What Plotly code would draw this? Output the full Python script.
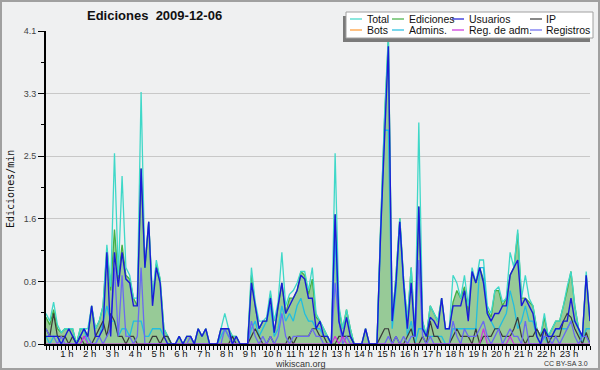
import plotly.graph_objects as go

# ---- data: edits per minute, 10-minute bins, 6 values per hour ----
total = [
    .4, .3, .55, .25, .15, .2,      # 0h
    .2, .2, 0, .2, .2, .2,          # 1h
    .5, .2, .3, .5, 1.3, .75,       # 2h
    2.5, .9, 2.2, 1.0, .9, .6,      # 3h
    .6, 3.3, 1.0, 1.6, .6, 1.1,     # 4h
    .85, .2, .1, 0, 0, .1,          # 5h
    0, .1, .1, 0, .2, .1,           # 6h
    .2, 0, 0, 0, .2, .4,            # 7h
    .2, .1, .1, 0, 0, 0,            # 8h
    1.0, .55, .3, .3, .35, .7,      # 9h
    .3, .55, 1.2, .5, .65, .7,      # 10h
    .8, .95, .95, .7, 1.0, .4,      # 11h
    .3, .2, .1, 0, 2.5, .5,         # 12h
    .2, .45, .2, 0, 0, 0,           # 13h
    .2, 0, 0, 0, 1.6, 3.0,          # 14h
    4.05, .3, .9, 1.65, .85, .3,    # 15h
    1.0, .1, 2.9, .3, .1, .5,       # 16h
    .4, .3, .6, .2, .2, .9,         # 17h
    .8, .6, .9, .5, 1.0, .8,        # 18h
    1.1, 1.1, .5, .4, .7, .75,      # 19h
    .55, .6, 1.2, 1.0, 1.5, .6,     # 20h
    .9, .6, .5, .2, .1, .4,         # 21h
    .1, .2, .3, .3, .5, .75,        # 22h
    .95, .5, .2, .1, .95, .3,       # 23h
]
ediciones = [
    .35, .25, .45, .2, .15, .2,
    .2, .2, 0, .2, .2, .1,
    .5, .2, .3, .5, 1.25, .7,
    1.5, .85, 1.3, .9, .85, .6,
    .5, 2.3, 1.0, 1.6, .6, 1.05,
    .85, .2, .1, 0, 0, .1,
    0, .1, .1, 0, .2, .1,
    .2, 0, 0, 0, .2, .2,
    .2, .1, .1, 0, 0, 0,
    .9, .5, .2, .3, .3, .65,
    .15, .5, .8, .4, .6, .6,
    .7, .95, .9, .65, .85, .35,
    .3, .2, .1, 0, 1.7, .45,
    .2, .45, .2, 0, 0, 0,
    .2, 0, 0, 0, 1.6, 2.95,
    4.0, .3, .9, 1.65, .85, .3,
    1.0, .1, 1.8, .3, .1, .5,
    .4, .3, .6, .2, .2, .55,
    .7, .6, .75, .4, .95, .8,
    1.0, .85, .45, .35, .7, .7,
    .5, .6, .9, 1.0, 1.45, .6,
    .6, .55, .5, .2, .1, .35,
    .1, .2, .3, .3, .5, .7,
    .95, .5, .2, .1, .9, .3,
]
usuarios = [
    .1, .1, .1, .1, 0, .1,
    .2, .1, 0, .1, .2, .1,
    .5, .1, .1, .2, 1.2, .1,
    1.2, .75, 1.2, .85, .8, .5,
    .5, 2.3, 1.0, 1.6, .5, 1.0,
    .8, .1, 0, 0, 0, .1,
    0, .1, .1, 0, .2, .1,
    .2, 0, 0, 0, .2, .2,
    .2, 0, .1, 0, 0, 0,
    .8, .5, .2, .3, .3, .6,
    .15, .5, .8, .4, .5, .6,
    .7, .9, .85, .6, .6, .2,
    .3, .1, .1, 0, 1.7, .3,
    .1, .35, .1, 0, 0, 0,
    .2, 0, 0, 0, 1.5, 2.8,
    3.9, .3, .8, 1.6, .8, .2,
    .8, .1, 1.8, .2, .1, .35,
    .3, .2, .6, .2, .2, .5,
    .5, .5, .7, .3, .95, .8,
    1.0, .8, .4, .3, .4, .4,
    .5, .5, .9, 1.0, 1.1, .5,
    .6, .5, .4, .1, 0, .2,
    .1, .1, .2, .2, .3, .3,
    .6, .3, .2, .1, .9, .3,
]
ip = [
    .2, .1, .4, .1, .1, .1,
    0, .1, 0, .1, 0, 0,
    0, .1, .2, .3, .1, .4,
    .3, .1, .1, 0, .1, .1,
    0, 0, 0, 0, .1, .1,
    0, .1, .1, 0, 0, 0,
    0, 0, 0, 0, 0, 0,
    0, 0, 0, 0, 0, 0,
    0, .1, 0, 0, 0, 0,
    .1, .2, .1, 0, 0, .1,
    0, 0, 0, 0, .1, 0,
    .1, .1, .1, .1, .2, .2,
    .1, .1, 0, 0, 0, .1,
    .1, .1, .1, 0, 0, 0,
    0, 0, 0, 0, .1, .2,
    .2, 0, .1, 0, 0, .1,
    .2, 0, 0, .1, 0, .3,
    .1, .1, 0, 0, 0, .1,
    .2, .1, .1, .1, 0, .2,
    0, .1, .1, .1, .2, .2,
    .1, .1, .1, .2, .35, .1,
    0, .1, .1, .2, .1, .2,
    0, .1, .1, .1, .3, .4,
    .35, .2, .1, 0, .15, 0,
]
bots = [0] * 144
admins = [
    .1, 0, .1, .1, 0, 0,
    0, 0, 0, .1, .2, 0,
    0, 0, .1, .3, .5, .3,
    .3, .1, .2, .2, .1, .3,
    .3, .3, .1, .1, .2, .2,
    .2, .1, .1, 0, 0, 0,
    0, 0, 0, 0, 0, 0,
    0, 0, 0, 0, .1, .2,
    .1, .1, 0, 0, 0, 0,
    .2, .3, .1, .2, .3, .5,
    .1, .2, .5, .3, .4, .3,
    .5, .6, .4, .3, .3, .2,
    .2, .1, .1, 0, 1.4, .3,
    .1, .1, .1, 0, 0, 0,
    0, 0, 0, 0, 1.5, 2.8,
    2.8, .2, .7, 1.6, .8, .1,
    .3, 0, .2, .2, .1, .1,
    .1, .1, .1, 0, 0, .2,
    .2, .2, .2, .2, .2, .2,
    1.0, 1.0, .4, .3, .2, .2,
    .3, .4, .7, .5, .2, .3,
    .5, .3, .3, .1, 0, .1,
    0, .1, .2, .2, .2, .2,
    .3, .3, .2, 0, .2, .2,
]
reg_adm = [
    0, 0, 0, 0, 0, 0,
    0, 0, 0, 0, .1, 0,
    0, 0, 0, 0, 0, 0,
    0, 0, 0, 0, 0, 0,
    0, 0, 0, 0, 0, 0,
    0, 0, 0, 0, 0, 0,
    0, 0, 0, 0, 0, 0,
    0, 0, 0, 0, 0, 0,
    0, 0, 0, 0, 0, 0,
    0, 0, 0, 0, 0, 0,
    0, 0, 0, 0, 0, 0,
    0, 0, 0, 0, 0, 0,
    0, 0, 0, 0, .1, 0,
    .1, 0, 0, 0, 0, 0,
    0, 0, 0, 0, 0, 0,
    0, 0, 0, 0, 0, 0,
    0, 0, 0, 0, 0, 0,
    0, 0, 0, 0, 0, 0,
    0, 0, 0, 0, 0, 0,
    0, .2, 0, 0, 0, 0,
    0, 0, .1, 0, 0, 0,
    0, 0, 0, 0, 0, 0,
    0, 0, 0, 0, 0, 0,
    0, 0, 0, 0, 0, 0,
]
registros = [
    .2, .1, .1, 0, .1, 0,
    0, 0, 0, 0, .1, .1,
    0, 0, .1, 0, .1, .2,
    1.0, .1, .9, .1, .1, 0,
    .1, 1.0, 0, 0, 0, 0,
    0, 0, 0, 0, 0, 0,
    0, 0, .1, 0, 0, 0,
    0, 0, 0, 0, 0, .2,
    .1, 0, 0, 0, 0, 0,
    .3, .1, 0, .1, 0, .1,
    0, .1, .4, .1, 0, .1,
    .1, .1, .1, .1, .2, .1,
    .1, 0, 0, 0, .8, .3,
    0, .1, 0, 0, 0, 0,
    0, 0, 0, 0, 0, 0,
    .1, 0, .1, 0, .1, 0,
    .1, .1, 1.1, .1, 0, .1,
    0, 0, 0, 0, 0, .3,
    .1, 0, .2, .1, .1, .1,
    .2, .3, .1, 0, .1, .2,
    0, .1, .2, .1, .1, 0,
    .3, 0, 0, 0, 0, .1,
    .1, 0, .1, 0, .1, .2,
    .3, .1, 0, .1, .1, 0,
]
hours = list(range(1, 24))
hour_labels = [f"{h} h" for h in hours]
y_max = 4.1
y_tick_labels = ["0.0", "0.8", "1.6", "2.5", "3.3", "4.1"]

legend_names = [["Total", "Ediciones", "Usuarios", "IP"],
                ["Bots", "Admins.", "Reg. de adm.", "Registros"]]

# ---- styles ----
C_TOTAL = "#3fd8c8"
C_EDIC = "#44b044"
C_FILL = "#97ca97"
C_USU = "#1a1ad8"
C_IP = "#3a3a3a"
C_BOTS = "#ff9933"
C_ADM = "#22bde0"
C_REGADM = "#cc33dd"
C_REG = "#6a6af0"
legend_colors = [[C_TOTAL, C_EDIC, C_USU, C_IP],
                 [C_BOTS, C_ADM, C_REGADM, C_REG]]

W, H = 600, 370
ML, MR, MT, MB = 46, 10, 31, 26
PW, PH = W - ML - MR, H - MT - MB


def px(x):
    return (x - ML) / PW


def py(y):
    return (H - MB - y) / PH


t = [i / 6 for i in range(len(total))]

fig = go.Figure()
fig.add_trace(go.Scatter(x=t, y=ediciones, mode="lines", fill="tozeroy",
                         fillcolor=C_FILL, line=dict(color=C_EDIC, width=1.3)))
fig.add_trace(go.Scatter(x=t, y=total, mode="lines", line=dict(color=C_TOTAL, width=1.3)))
fig.add_trace(go.Scatter(x=t, y=admins, mode="lines", line=dict(color=C_ADM, width=1.3)))
fig.add_trace(go.Scatter(x=t, y=ip, mode="lines", line=dict(color=C_IP, width=1.2)))
fig.add_trace(go.Scatter(x=t, y=registros, mode="lines", line=dict(color=C_REG, width=1.3)))
fig.add_trace(go.Scatter(x=t, y=reg_adm, mode="lines", line=dict(color=C_REGADM, width=1.2)))
fig.add_trace(go.Scatter(x=t, y=usuarios, mode="lines", line=dict(color=C_USU, width=1.4)))

y_ticks = [y_max * k / 5 for k in range(6)]
y_minor = [y_max * (k + 0.5) / 5 for k in range(5)]

shapes = []
annotations = []

# outer frame
shapes.append(dict(type="rect", xref="paper", yref="paper",
                   x0=px(1), x1=px(599), y0=py(369), y1=py(1),
                   line=dict(color="#a0a0a0", width=2), fillcolor="rgba(0,0,0,0)", layer="above"))

# legend box with shadow
lx0, lx1, ly0, ly1 = 346, 593, 12, 38
shapes.append(dict(type="rect", xref="paper", yref="paper",
                   x0=px(lx0 - 3), x1=px(lx1 - 3), y0=py(ly1 + 4), y1=py(ly0 + 4),
                   line=dict(width=0), fillcolor="#7a7a7a", layer="above"))
shapes.append(dict(type="rect", xref="paper", yref="paper",
                   x0=px(lx0), x1=px(lx1), y0=py(ly1), y1=py(ly0),
                   line=dict(color="#a0a0a0", width=1), fillcolor="#ffffff", layer="above"))
col_line_x = [350, 392, 452, 530]
col_text_x = [365, 407, 467, 544]
row_y = [19, 30]
for r in range(2):
    for c in range(4):
        shapes.append(dict(type="line", xref="paper", yref="paper",
                           x0=px(col_line_x[c]), x1=px(col_line_x[c] + 12),
                           y0=py(row_y[r]), y1=py(row_y[r]),
                           line=dict(color=legend_colors[r][c], width=1.2), layer="above"))
        annotations.append(dict(text=legend_names[r][c], xref="paper", yref="paper",
                                x=px(col_text_x[c]), y=py(row_y[r]), xanchor="left",
                                yanchor="middle", showarrow=False,
                                font=dict(family="Liberation Sans", size=10.5, color="#111")))

annotations.append(dict(text="<b>Ediciones  2009-12-06</b>", xref="paper", yref="paper",
                        x=px(154), y=py(16), xanchor="center", yanchor="middle", showarrow=False,
                        font=dict(family="Liberation Sans", size=13, color="#111")))
annotations.append(dict(text="Ediciones/min", xref="paper", yref="paper",
                        x=px(10), y=py(189), xanchor="center", yanchor="middle", showarrow=False,
                        textangle=-90,
                        font=dict(family="DejaVu Sans Mono", size=10, color="#111")))
annotations.append(dict(text="wikiscan.org", xref="paper", yref="paper",
                        x=px(300), y=py(363.5), xanchor="center", yanchor="middle", showarrow=False,
                        font=dict(family="Liberation Sans", size=9, color="#333")))
annotations.append(dict(text="CC BY-SA 3.0", xref="paper", yref="paper",
                        x=px(590), y=py(363), xanchor="right", yanchor="middle", showarrow=False,
                        font=dict(family="Liberation Sans", size=7, color="#333")))

fig.update_layout(
    width=W, height=H,
    margin=dict(l=ML, r=MR, t=MT, b=MB, pad=0),
    paper_bgcolor="#eff0f1", plot_bgcolor="#eff0f1",
    showlegend=False,
    shapes=shapes, annotations=annotations,
    xaxis=dict(range=[0, t[-1]], tickmode="array", tickvals=hours, ticktext=hour_labels,
               ticks="outside", ticklen=4, tickwidth=1, tickcolor="#000",
               showline=True, linecolor="#000", linewidth=2, showgrid=False, zeroline=False,
               ticklabelshift=-2, ticklabelstandoff=-4, automargin=False,
               tickfont=dict(family="Liberation Sans", size=9.5, color="#111"),
               minor=dict(tickvals=t, ticks="outside", ticklen=4, tickcolor="#000", tickwidth=1)),
    yaxis=dict(range=[0, y_max], tickmode="array", tickvals=y_ticks, ticktext=y_tick_labels,
               ticks="outside", ticklen=6, tickwidth=1, tickcolor="#000",
               showline=True, linecolor="#000", linewidth=2, automargin=False,
               showgrid=True, gridcolor="#c8c8c8", gridwidth=1, zeroline=False,
               tickfont=dict(family="Liberation Sans", size=9, color="#444"),
               minor=dict(tickvals=y_minor, ticks="outside", ticklen=3, tickcolor="#000",
                          tickwidth=1, showgrid=False)),
)

fig.write_html("out.html", config={"displayModeBar": False},
               post_script="document.body.style.margin='0';")
